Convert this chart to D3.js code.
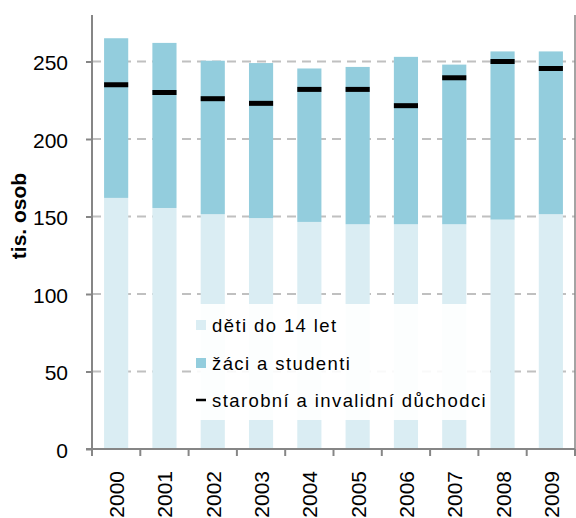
<!DOCTYPE html>
<html><head><meta charset="utf-8">
<script src="https://cdn.jsdelivr.net/npm/d3@7"></script>
<style>
html,body{margin:0;padding:0;background:#fff;}
svg{display:block;font-family:"Liberation Sans",Arial,sans-serif;}
</style></head>
<body><svg id="c" width="576" height="518"></svg>
<script>
const years = ["2000","2001","2002","2003","2004","2005","2006","2007","2008","2009"];
const children = [162, 155.5, 151.5, 149, 146.5, 145, 145, 145, 148, 151.5];
const students = [103, 106.5, 99, 100, 99, 101.5, 108, 103, 108.5, 105];
const pensioners = [235, 230, 226, 223, 232, 232, 221.5, 239.5, 250, 245.5];
const yTicks = [0, 50, 100, 150, 200, 250];
const legendLabels = ["děti do 14 let", "žáci a studenti", "starobní a invalidní důchodci"];
const colors = {children:"#daedf3", students:"#93cddd", pens:"#000000", axis:"#868686", grid:"#c0c0c0"};

const svg = d3.select("#c");
const L = 92, R = 575, T = 15, B = 449;
const x = d3.scaleBand().domain(years).range([L, R]).paddingInner(0.5).paddingOuter(0.25);
const y = d3.scaleLinear().domain([0, 280]).range([B, T]);

// gridlines
svg.append("g").selectAll("line").data(yTicks.filter(d => d > 0)).join("line")
  .attr("x1", L).attr("x2", R).attr("y1", d => y(d)).attr("y2", d => y(d))
  .attr("stroke", colors.grid).attr("stroke-width", 2).attr("stroke-dasharray", "9,6");

// bars
const bars = svg.append("g");
bars.selectAll("rect.ch").data(years).join("rect").attr("class","ch")
  .attr("x", d => x(d)).attr("width", x.bandwidth())
  .attr("y", (d,i) => y(children[i])).attr("height", (d,i) => y(0) - y(children[i]))
  .attr("fill", colors.children);
bars.selectAll("rect.st").data(years).join("rect").attr("class","st")
  .attr("x", d => x(d)).attr("width", x.bandwidth())
  .attr("y", (d,i) => y(children[i] + students[i])).attr("height", (d,i) => y(children[i]) - y(children[i] + students[i]))
  .attr("fill", colors.students);
bars.selectAll("line.pe").data(years).join("line").attr("class","pe")
  .attr("x1", d => x(d)).attr("x2", d => x(d) + x.bandwidth())
  .attr("y1", (d,i) => y(pensioners[i])).attr("y2", (d,i) => y(pensioners[i]))
  .attr("stroke", colors.pens).attr("stroke-width", 5);

// axes
const yAxis = d3.axisLeft(y).tickValues(yTicks).tickSize(6).tickPadding(18);
const gy = svg.append("g").attr("transform", `translate(${L},0)`).call(yAxis);
gy.select(".domain").remove();
gy.selectAll(".tick line").attr("stroke", colors.axis).attr("stroke-width", 2);
gy.selectAll(".tick text").attr("font-size", 21).attr("fill", "#000").attr("font-family", "Liberation Sans, Arial, sans-serif").attr("dy", "0.4em");
svg.append("line").attr("x1", L).attr("x2", L).attr("y1", T).attr("y2", B + 1).attr("stroke", colors.axis).attr("stroke-width", 2);
svg.append("line").attr("x1", R).attr("x2", R).attr("y1", T).attr("y2", B).attr("stroke", colors.axis).attr("stroke-width", 1.5);

const gx = svg.append("g").attr("transform", `translate(0,${B})`);
gx.append("line").attr("x1", L - 6).attr("x2", R).attr("y1", 0).attr("y2", 0).attr("stroke", colors.axis).attr("stroke-width", 2);
const boundaries = d3.range(years.length + 1).map(i => L + i * (R - L) / years.length);
gx.selectAll("line.tk").data(boundaries).join("line").attr("class","tk")
  .attr("x1", d => d).attr("x2", d => d).attr("y1", 0).attr("y2", 7)
  .attr("stroke", colors.axis).attr("stroke-width", 2);
gx.selectAll("text").data(years).join("text")
  .attr("transform", d => `translate(${x(d) + x.bandwidth()/2 + 8},22) rotate(-90)`)
  .attr("text-anchor", "end").attr("font-size", 21).attr("fill", "#000").text(d => d);

// y title
svg.append("text").attr("transform", "translate(26,216) rotate(-90)")
  .attr("text-anchor", "middle").attr("font-size", 21).attr("font-weight", "bold").text("tis. osob");

// legend
const lg = svg.append("g");
lg.append("rect").attr("x", 191).attr("y", 304).attr("width", 299).attr("height", 116)
  .attr("fill", "#fff").attr("fill-opacity", 0.9);
const ly = [325, 363, 400];
lg.append("rect").attr("x", 196).attr("y", ly[0] - 5).attr("width", 10).attr("height", 10).attr("fill", colors.children);
lg.append("rect").attr("x", 196).attr("y", ly[1] - 5).attr("width", 10).attr("height", 10).attr("fill", colors.students);
lg.append("line").attr("x1", 196).attr("x2", 206).attr("y1", ly[2]).attr("y2", ly[2]).attr("stroke", "#000").attr("stroke-width", 2.5);
lg.selectAll("text").data(legendLabels).join("text")
  .attr("x", 212).attr("y", (d,i) => ly[i] + 6.5)
  .attr("font-size", 18.5).attr("letter-spacing", "1.4px").attr("fill", "#000").text(d => d);
</script></body></html>
